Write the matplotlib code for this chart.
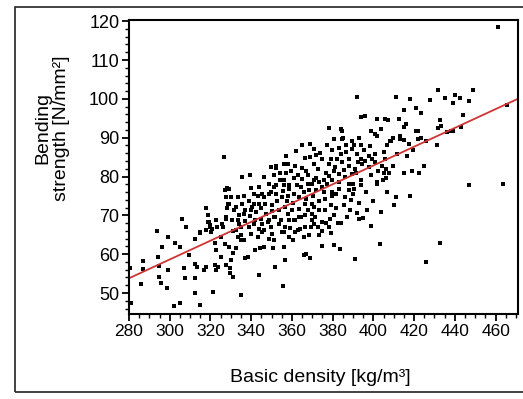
import numpy as np
import matplotlib
matplotlib.use("Agg")
import matplotlib.pyplot as plt
from matplotlib.patches import Rectangle

plt.rcParams['font.family'] = ['Liberation Sans', 'DejaVu Sans']

# points as (basic density, bending strength)
pts_top = [
    (461, 118.5), (391.8, 100.5), (411, 100.5), (418, 100), (431.5, 102.3), (435, 100.3),
    (440, 101), (442.7, 100.3), (449, 102.3), (446.7, 99.5), (439, 99), (428, 99.7),
    (465.8, 98.5), (414.8, 97.2), (420.7, 97.7), (423.6, 96.4), (393.7, 95.4), (395.7, 95.6),
    (402, 94.9), (405.5, 94.9), (407, 94.6), (412.8, 94.9), (415, 92.8), (432.5, 94.6),
    (431.5, 92.5), (444, 95.9), (443, 92.8), (438, 91.8), (436, 91.5), (421.7, 91.8),
    (378, 92.6), (384, 92.3), (380.5, 89.7), (385, 90), (393, 90), (399, 91.8),
    (403.5, 92.3), (402, 90.5), (408, 89.2), (409.4, 90), (413, 90.5), (415, 89.5),
    (423.6, 90), (431, 88.2), (368.7, 88.5), (326.5, 84.9), (357, 85.4), (358, 83.3),
    (361.4, 82.8), (352, 82.8), (369, 84.9), (371, 83.3), (433.4, 93), (439, 91.8),
]
pts_upper = [
    (401, 91), (415.8, 93.6), (413, 89.7), (408.4, 89.2), (406.5, 88), (405, 86.2),
    (421, 91.8), (422, 89.7), (417.3, 88.5), (425.6, 89.2), (384.4, 91.8), (384.4, 89.7),
    (389.3, 89.2), (393.7, 88.0), (379.5, 86.7), (382.9, 87.4), (386.4, 86.2), (389.3, 87.2),
    (391.8, 85.9), (395.2, 86.7), (397.6, 85.4), (401, 85.9), (379, 84.6), (382.2, 84.6),
    (388, 84.6), (393.7, 84.6), (399.4, 84.6), (405.9, 84.6), (362, 86.5), (365, 88),
    (374, 86), (377, 88), (372, 85.5), (378, 83.2), (381.3, 82.4), (384.5, 83.7),
    (387.8, 82.8), (391.1, 82.0), (394.3, 83.2), (397.6, 82.4), (400.9, 83.7), (404.1, 82.8),
    (382.9, 80.7), (386.2, 79.8), (379.6, 79.0), (389.4, 80.7), (379.6, 76.0), (382.9, 76.8),
    (387.8, 76.4), (390.3, 76.8),
]
pts_right = [
    (447, 77.7), (463.8, 78.2), (432.5, 63), (425.6, 58), (403, 62.6), (391, 58.7),
    (374.6, 62), (380.5, 62.3), (383.4, 61.3), (366, 59.7), (368.7, 59), (379, 65.4),
    (398.6, 67.2), (403.5, 70.8), (410, 72.6), (406.5, 75.9), (411, 74.6), (418, 75.1),
    (400, 73.8), (393, 73.3), (392, 70.5), (394.7, 69.2), (392.7, 69), (397, 71.3),
    (387, 69.7), (382.5, 68), (376.6, 68), (372.6, 67), (370, 68.7), (385.9, 74.6),
    (385.4, 72.6), (415, 80.8), (419, 81.5), (422.6, 81), (425, 82.8), (402, 78.2),
    (404.5, 79), (406, 79.7), (406, 82), (409.4, 82.8), (379.5, 75.1), (381.5, 75.6),
    (379, 72.6), (380.5, 70), (384, 68), (390, 78.2), (390, 75.6), (401.6, 78.5),
    (393.7, 77.7), (394, 79), (407.5, 80.8), (405, 81),
]
pts_left = [
    (281, 47.4), (280.5, 56.4), (286.9, 58.2), (286.9, 56.2), (285.9, 52.3), (294.2, 59.2),
    (294.7, 56.9), (294.7, 54.1), (295.7, 52.6), (293.7, 65.9), (296, 61.8), (298.6, 51.3),
    (299, 64.4), (302.5, 63), (305, 61.8), (299, 55.9), (302, 46.7), (305, 47.4),
    (306, 69), (308, 66.9), (307, 56.4), (307.5, 53.8), (312.4, 50), (312.4, 53.8),
    (314.8, 46.9), (312.4, 57.4), (313.3, 56.7), (309.4, 59.7), (312.4, 63.8), (314.8, 65.4),
    (317, 55.9), (317.7, 56.7), (317.7, 72), (321, 50.3), (318.7, 68.2), (319.7, 66.9),
    (320.2, 65.6), (322, 57.2), (322.6, 55.9), (322, 62.8), (322.6, 61), (335.4, 80),
    (339.3, 80.5), (335, 49.5), (343.7, 54.6), (355.5, 51.8), (356.5, 58.5), (351.6, 56.7),
    (366.8, 60), (319, 70), (320, 67.4), (328, 77), (327.5, 74.6), (328, 72),
    (315.1, 65.7), (317.6, 66.2), (320.8, 66.6), (323.3, 67.0), (325.8, 67.9), (327.4, 69.1),
    (322.5, 68.7), (319.2, 68.3),
]
pts_core = [
    (352, 82.3), (351, 80.3), (357, 80.8), (356, 79), (358.4, 77.7), (361, 79.5),
    (364.8, 82.3), (367, 81.5), (368, 80.3), (370.7, 83.3), (373, 82), (376.6, 80.8),
    (375.6, 79), (372, 79.5), (369.7, 78.2), (348.6, 78.2), (352, 77.7), (343.7, 77.2),
    (341.3, 75.6), (345.2, 75.6), (348.6, 75.6), (352, 75.6), (355, 74.6), (357.5, 73.8),
    (361, 75.6), (363.3, 74.6), (365.8, 75.9), (368.2, 76.4), (371.7, 76.4), (374.6, 77.2),
    (377, 78.2), (329.0, 73.0), (332.3, 72.1), (335.5, 73.0), (337.2, 71.3), (340.4, 72.1),
    (338.8, 73.8), (343.7, 73.0), (347.0, 73.0), (350.2, 72.6), (353.5, 71.3), (356.8, 72.1),
    (360.0, 71.3), (363.3, 71.7), (366.6, 73.0), (369.8, 73.0), (373.1, 73.8), (376.4, 74.3),
    (330.6, 68.7), (333.9, 67.9), (332.3, 66.2), (338.8, 67.0), (342.1, 68.7), (345.3, 67.9),
    (348.6, 68.7), (351.9, 69.6), (353.5, 67.9), (356.8, 67.0), (358.4, 68.7), (361.7, 68.7),
    (363.3, 69.6), (366.6, 70.0), (369.8, 70.4), (373.1, 71.3), (376.4, 71.3), (345.3, 65.7),
    (350.2, 65.3), (355.1, 65.7), (361.7, 65.7), (366.6, 67.0), (370.7, 67.9), (374.8, 68.3),
    (378.0, 67.0), (368.2, 64.9), (358.4, 64.4), (348.6, 64.0), (373.1, 64.9),
]
pts_mid = [
    (326.9, 76.4), (329.3, 76.8), (330.2, 74.7), (328.5, 73.0), (331.8, 71.3), (327.7, 69.6),
    (326.1, 67.0), (325.3, 64.4), (326.9, 62.7), (329.3, 61.9), (331.0, 60.2), (330.2, 58.5),
    (327.7, 57.2), (333.4, 64.4), (335.1, 67.0), (333.4, 68.7), (336.7, 70.4), (340.0, 71.3),
    (341.6, 73.0), (339.1, 73.8), (343.2, 75.1), (346.5, 74.7), (349.8, 76.0), (351.4, 77.3),
    (353.9, 79.0), (356.3, 77.7), (358.8, 76.8), (361.2, 75.5), (364.5, 77.3), (367.7, 78.1),
    (371.0, 79.0), (349.8, 82.4), (356.3, 83.2), (344.2, 61.5), (350.6, 61.5), (360.4, 63.6),
    (338.3, 59.2), (341.8, 61), (336.9, 59), (332.5, 61.5), (334.9, 63.6), (329.5, 56.4),
    (329.5, 55.1), (323.6, 56.7), (325, 59.2), (331, 54.1), (336.7, 63.6), (340.0, 65.3),
    (343.2, 64.4), (346.5, 66.2), (349.8, 67.0), (341.6, 67.9), (344.9, 69.1), (348.1, 68.3),
    (351.4, 69.6), (354.7, 68.7), (357.9, 70.4), (361.2, 68.7), (364.5, 69.6), (367.7, 71.3),
    (371.0, 72.1), (356.3, 65.7), (362.8, 66.2), (366.1, 64.4), (369.4, 67.0), (351.4, 63.6),
    (346.5, 61.9), (356.3, 61.9),
]
# extra points in the darkest clumps of the band
pts_dense = [
    (334, 70.2), (337, 68.5), (339.5, 69.8), (342.5, 70.8), (345, 71.8), (347.5, 70.3),
    (350, 71.0), (352.5, 73.6), (355.5, 76.2), (358, 75.1), (360.5, 73.2), (362.5, 77.8),
    (365, 79.3), (367, 74.2), (370.5, 75.0), (373.5, 78.7), (375.5, 76.0), (378, 80.2),
    (380.5, 81.3), (383, 78.5), (385.5, 81.8), (388, 78.0), (391.5, 81.0), (384, 85.8),
    (386.5, 88.2), (390.5, 88.0), (392.5, 83.8), (396, 84.0), (398.5, 87.8), (375, 84.5),
    (371, 87.0), (366.5, 84.8), (363, 80.5), (359.5, 81.3), (354, 80.8), (346.5, 79.8),
    (340, 77.0), (336.5, 75.0), (333.5, 74.8), (331, 66.0), (335, 65.0), (344, 66.5),
    (359, 66.8), (364, 66.5), (371.5, 69.5), (375, 66.0), (378.5, 69.0), (381.5, 71.8),
    (388.5, 71.5), (389, 74.0), (396.5, 76.0), (399, 80.5), (402.5, 81.3), (411.5, 85.8),
    (416.5, 85.3), (419.5, 86.8),
]

# regression line
fit_intercept = 53.8   # strength at density 280
fit_slope = 0.242

pts = np.array(pts_top + pts_upper + pts_right + pts_left + pts_core + pts_mid + pts_dense)
density = pts[:, 0]
strength = pts[:, 1]

fig = plt.figure(figsize=(5.23, 3.99), dpi=100)
ax = fig.add_axes([129 / 523, 1 - 314 / 399, 389 / 523, 294 / 399])

ax.plot(density, strength, 's', color='black', markersize=3.5, markeredgewidth=0)

xl = np.array([280, 471])
ax.plot(xl, fit_intercept + fit_slope * (xl - 280), color='#cf3434', linewidth=1.3)

ax.set_xlim(280, 471)
ax.set_ylim(44.6, 120.3)
ax.set_xticks(np.arange(280, 461, 20))
ax.set_xticks(np.arange(280, 471, 5), minor=True)
ax.set_yticks(np.arange(50, 121, 10))
ax.set_yticks(np.arange(46, 121, 2), minor=True)
ax.tick_params(which='major', direction='out', length=5, width=1.3, pad=2)
ax.tick_params(which='minor', direction='out', length=3, width=1.0)
ax.tick_params(axis='x', labelsize=12.5)
ax.tick_params(axis='y', labelsize=13)
for lab in ax.get_xticklabels():
    lab.set_x(lab.get_position()[0])
for s in ax.spines.values():
    s.set_linewidth(1.5)

fig.text(320 / 523, 1 - 378 / 399, 'Basic density [kg/m³]', ha='center', va='center', fontsize=14)
fig.text(52 / 523, 1 - 128 / 399, 'Bending\nstrength [N/mm²]', ha='center', va='center',
         rotation=90, fontsize=14, linespacing=1.15)

fig.patches.append(Rectangle((15 / 523, 1 - 392 / 399), 510 / 523, 385 / 399,
                             transform=fig.transFigure, fill=False, edgecolor='#333333', linewidth=1.3))

fig.savefig('out.png', dpi=100)
